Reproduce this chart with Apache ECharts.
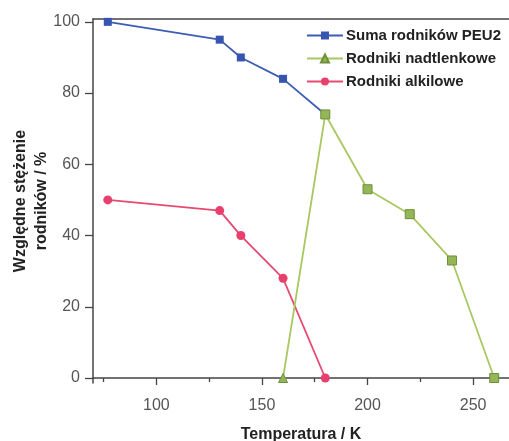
<!DOCTYPE html>
<html><head><meta charset="utf-8">
<script src="https://cdn.jsdelivr.net/npm/echarts@6/dist/echarts.min.js"></script>
<style>html,body{margin:0;padding:0;background:#fff}#c{width:509px;height:441px}</style>
</head><body><div id="c"></div>
<script>
const sumaT = [77, 130, 140, 160, 180];
const sumaV = [100, 95, 90, 84, 74];
const nadT = [160, 180, 200, 220, 240, 260];
const nadV = [0, 74, 53, 46, 33, 0];
const alkT = [77, 130, 140, 160, 180];
const alkV = [50, 47, 40, 28, 0];
const xMajor = [100, 150, 200, 250];
const xMinor = [75, 125, 175, 225];
const yMajor = [0, 20, 40, 60, 80, 100];
const yMinor = [10, 30, 50, 70, 90];
const names = ['Suma rodników PEU2', 'Rodniki nadtlenkowe', 'Rodniki alkilowe'];

const pair = (xs, ys) => xs.map((x, i) => [x, ys[i]]);
const font = 'Liberation Sans, Arial, sans-serif';
const axisCol = '#444';
const XMIN = 70, XMAX = 267, YMIN = -1.4, YMAX = 100.8;

const chart = echarts.init(document.getElementById('c'));
chart.setOption({
  animation: false,
  grid: {left: 93, right: 0, top: 19, bottom: 58, containLabel: false, outerBoundsMode: 'none'},
  legend: {
    right: 3, top: 23, orient: 'vertical', itemGap: 8, itemWidth: 36, itemHeight: 10,
    textStyle: {fontFamily: font, fontSize: 15, fontWeight: 'bold', color: '#222', lineHeight: 15, padding: [0, 0, 0, -2]},
    data: names
  },
  xAxis: [
    {type: 'value', min: XMIN, max: XMAX, position: 'bottom',
     name: 'Temperatura / K', nameLocation: 'middle', nameGap: 44, nameMoveOverlap: false,
     nameTextStyle: {fontFamily: font, fontSize: 16, fontWeight: 'bold', color: '#222'},
     axisLine: {show: true, lineStyle: {color: axisCol, width: 1.5}},
     axisTick: {show: true, inside: false, length: 7, customValues: xMajor, lineStyle: {color: axisCol, width: 1.3}},
     axisLabel: {customValues: xMajor, fontFamily: font, fontSize: 16, color: '#555', margin: 15},
     splitLine: {show: false}},
    {type: 'value', min: XMIN, max: XMAX, position: 'bottom',
     axisLine: {show: false},
     axisTick: {show: true, length: 4, customValues: xMinor, lineStyle: {color: axisCol, width: 1.3}},
     axisLabel: {show: false}, splitLine: {show: false}},
    {type: 'value', min: XMIN, max: XMAX, position: 'top',
     axisLine: {show: true, lineStyle: {color: axisCol, width: 1.5}},
     axisTick: {show: false}, axisLabel: {show: false}, splitLine: {show: false}}
  ],
  yAxis: [
    {type: 'value', min: YMIN, max: YMAX,
     name: 'Względne stężenie\nrodników / %', nameLocation: 'middle', nameGap: 41, nameRotate: 90, nameMoveOverlap: false,
     nameTextStyle: {fontFamily: font, fontSize: 16, fontWeight: 'bold', color: '#222', lineHeight: 21},
     axisLine: {show: true, lineStyle: {color: axisCol, width: 1.5}},
     axisTick: {show: true, length: 8, customValues: yMajor, lineStyle: {color: axisCol, width: 1.3}},
     axisLabel: {customValues: yMajor, fontFamily: font, fontSize: 16, color: '#555', margin: 13},
     splitLine: {show: false}},
    {type: 'value', min: YMIN, max: YMAX,
     axisLine: {show: false},
     axisTick: {show: true, length: 4, customValues: yMinor, lineStyle: {color: axisCol, width: 1.3}},
     axisLabel: {show: false}, splitLine: {show: false}}
  ],
  series: [
    {name: names[1], type: 'line', data: nadT.map((x, i) => i === 0 ? [x, nadV[i]] : {value: [x, nadV[i]], symbol: 'rect', symbolSize: 9}),
     symbol: 'triangle', symbolSize: 9, z: 3,
     lineStyle: {color: '#a9c862', width: 1.8},
     itemStyle: {color: '#93b657', borderColor: '#6f8f3a', borderWidth: 1}},
    {name: names[0], type: 'line', data: pair(sumaT, sumaV), symbol: 'rect', symbolSize: 8, z: 2,
     lineStyle: {color: '#3d5db5', width: 1.8}, itemStyle: {color: '#3654b0'}},
    {name: names[2], type: 'line', data: pair(alkT, alkV), symbol: 'circle', symbolSize: 9, z: 2,
     lineStyle: {color: '#e64a72', width: 1.8}, itemStyle: {color: '#e8406c'}}
  ]
});
</script></body></html>
